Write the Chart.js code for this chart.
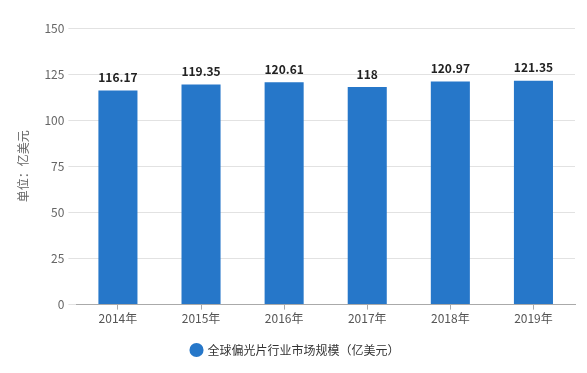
<!DOCTYPE html>
<html>
<head>
<meta charset="utf-8">
<script src="https://cdn.jsdelivr.net/npm/chart.js@4/dist/chart.umd.min.js"></script>
<style>
  html, body { margin: 0; padding: 0; background: #fff; }
  #wrap { width: 587px; height: 373px; }
</style>
</head>
<body>
<div id="wrap"><canvas id="chart"></canvas></div>
<script>
'use strict';

const years  = ['2014年', '2015年', '2016年', '2017年', '2018年', '2019年'];
const values = [116.17, 119.35, 120.61, 118, 120.97, 121.35];
const seriesName = '全球偏光片行业市场规模（亿美元）';
const yTitle = '单位：亿美元';

const FONT = '"Noto Sans CJK SC", "Noto Sans", sans-serif';

// draws value labels above each bar
const valueLabels = {
  id: 'valueLabels',
  afterDatasetsDraw(chart) {
    const { ctx } = chart;
    const meta = chart.getDatasetMeta(0);
    ctx.save();
    ctx.font = 'bold 12px ' + FONT;
    ctx.fillStyle = '#222';
    ctx.textAlign = 'center';
    ctx.textBaseline = 'bottom';
    meta.data.forEach((bar, i) => {
      ctx.fillText(String(values[i]), bar.x, bar.y - 7);
    });
    ctx.restore();
  },
};

new Chart(document.getElementById('chart'), {
  type: 'bar',
  data: {
    labels: years,
    datasets: [{
      label: seriesName,
      data: values,
      backgroundColor: '#2677c9',
      borderWidth: 0,
      barPercentage: 0.47,
      categoryPercentage: 1,
    }],
  },
  options: {
    responsive: true,
    maintainAspectRatio: false,
    animation: false,
    layout: { padding: { left: 16, right: 12, top: 28, bottom: 7 } },
    plugins: {
      legend: {
        position: 'bottom',
        labels: {
          usePointStyle: true,
          pointStyle: 'circle',
          boxWidth: 10,
          boxHeight: 10,
          padding: 16,
          color: '#333',
          font: { family: FONT, size: 12 },
        },
      },
      tooltip: { enabled: false },
    },
    scales: {
      x: {
        grid: { display: true, drawOnChartArea: false, offset: false, tickLength: 5, color: '#aaa' },
        border: { color: '#aaa' },
        ticks: { color: '#555', font: { family: FONT, size: 12 }, padding: 2 },
      },
      y: {
        min: 0,
        max: 150,
        ticks: { stepSize: 25, color: '#666', font: { family: FONT, size: 12 }, padding: 4 },
        grid: { color: '#e2e2e2', tickLength: 8 },
        border: { display: false },
        title: {
          display: true,
          text: yTitle,
          color: '#666',
          font: { family: FONT, size: 12 },
          padding: { top: 0, bottom: 10 },
        },
      },
    },
  },
  plugins: [valueLabels],
});
</script>
</body>
</html>
